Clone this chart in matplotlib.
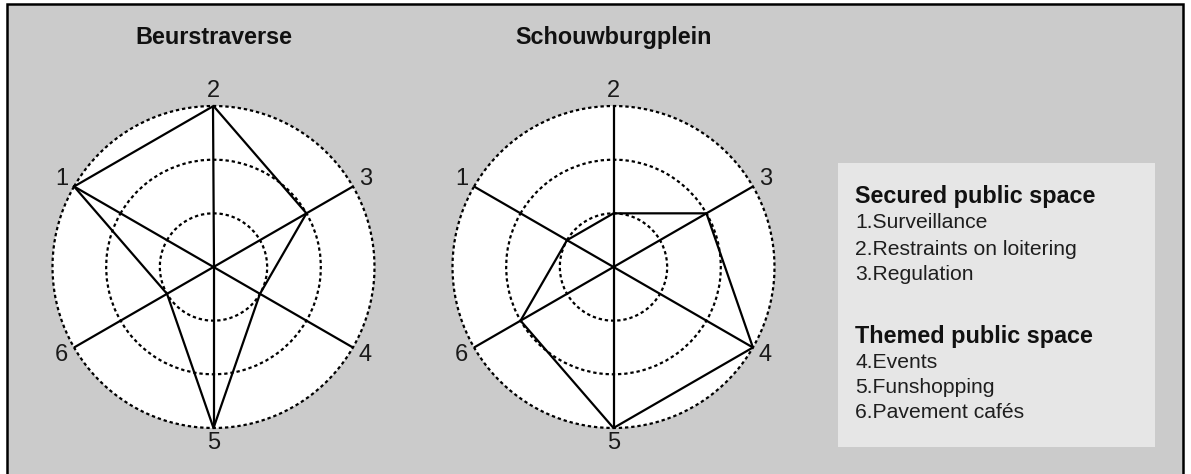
import numpy as np
import matplotlib
matplotlib.use("Agg")
import matplotlib.pyplot as plt
from matplotlib.patches import Rectangle

plt.rcParams['font.family'] = ['Liberation Sans', 'DejaVu Sans']

# ---- data ----
axis_labels = ["1", "2", "3", "4", "5", "6"]
beurstraverse = [3, 3, 2, 1, 3, 1]
schouwburgplein = [1, 1, 2, 3, 3, 2]
titles = ["Beurstraverse", "Schouwburgplein"]
legend_groups = ["Secured public space", "Themed public space"]
legend_items_1 = ["1.Surveillance", "2.Restraints on loitering", "3.Regulation"]
legend_items_2 = ["4.Events", "5.Funshopping", "6.Pavement cafés"]
rings = [1, 2, 3]

W, H = 1191, 474
fig = plt.figure(figsize=(W / 100, H / 100), dpi=100, facecolor="white")

def fx(x):
    return x / W

def fy(y):
    return 1 - y / H

# gray background with frame
fig.patches.append(Rectangle((fx(7), fy(480)), fx(1183) - fx(7), fy(3.5) - fy(480),
                             transform=fig.transFigure, facecolor="#cbcbcb",
                             edgecolor="black", linewidth=1.8, zorder=-2))
# legend box
fig.patches.append(Rectangle((fx(838), fy(447)), fx(1155) - fx(838), fy(163) - fy(447),
                             transform=fig.transFigure, facecolor="#e6e6e6",
                             edgecolor="none", zorder=-1))

dotted = (0, (1.5, 1.3))
R = 161
centers = [(213.5, 267), (613.5, 267)]
series = [beurstraverse, schouwburgplein]

n = len(axis_labels)
theta = np.arange(n) * 2 * np.pi / n

for (cx, cy), vals, title in zip(centers, series, titles):
    ax = fig.add_axes([fx(cx - R), fy(cy + R), 2 * R / W, 2 * R / H], projection="polar")
    ax.set_zorder(2)
    ax.set_theta_offset(np.deg2rad(150))
    ax.set_theta_direction(-1)
    ax.set_facecolor("white")
    ax.set_ylim(0, 3)
    ax.set_yticks(rings)
    ax.set_yticklabels([])
    ax.set_xticks(theta)
    ax.set_xticklabels(axis_labels, fontsize=17, color="#1a1a1a")
    ax.tick_params(axis="x", pad=0)
    ax.xaxis.grid(True, color="black", linewidth=1.6, linestyle="-")
    ax.yaxis.grid(True, color="black", linewidth=1.6, linestyle=dotted)
    for gl in ax.yaxis.get_gridlines():
        gl.set_clip_on(False)
    ax.spines["polar"].set_visible(False)
    v = list(vals) + [vals[0]]
    t = list(theta) + [theta[0]]
    ax.plot(t, v, color="black", linewidth=1.6, zorder=3, clip_on=False)
    fig.text(fx(cx), fy(44), title, ha="center", va="baseline",
             fontsize=16.8, fontweight="bold", color="#111111")

# legend text
x0 = fx(855)
fig.text(x0, fy(203), legend_groups[0], fontsize=16.8, fontweight="bold",
         va="baseline", ha="left", color="#111111")
for yy, s in zip([228, 255, 280], legend_items_1):
    fig.text(x0, fy(yy), s, fontsize=15.2, va="baseline", ha="left", color="#1e1e1e")
fig.text(x0, fy(343), legend_groups[1], fontsize=16.8, fontweight="bold",
         va="baseline", ha="left", color="#111111")
for yy, s in zip([368, 393, 418], legend_items_2):
    fig.text(x0, fy(yy), s, fontsize=15.2, va="baseline", ha="left", color="#1e1e1e")

fig.savefig("out.png", dpi=100, facecolor="white")
